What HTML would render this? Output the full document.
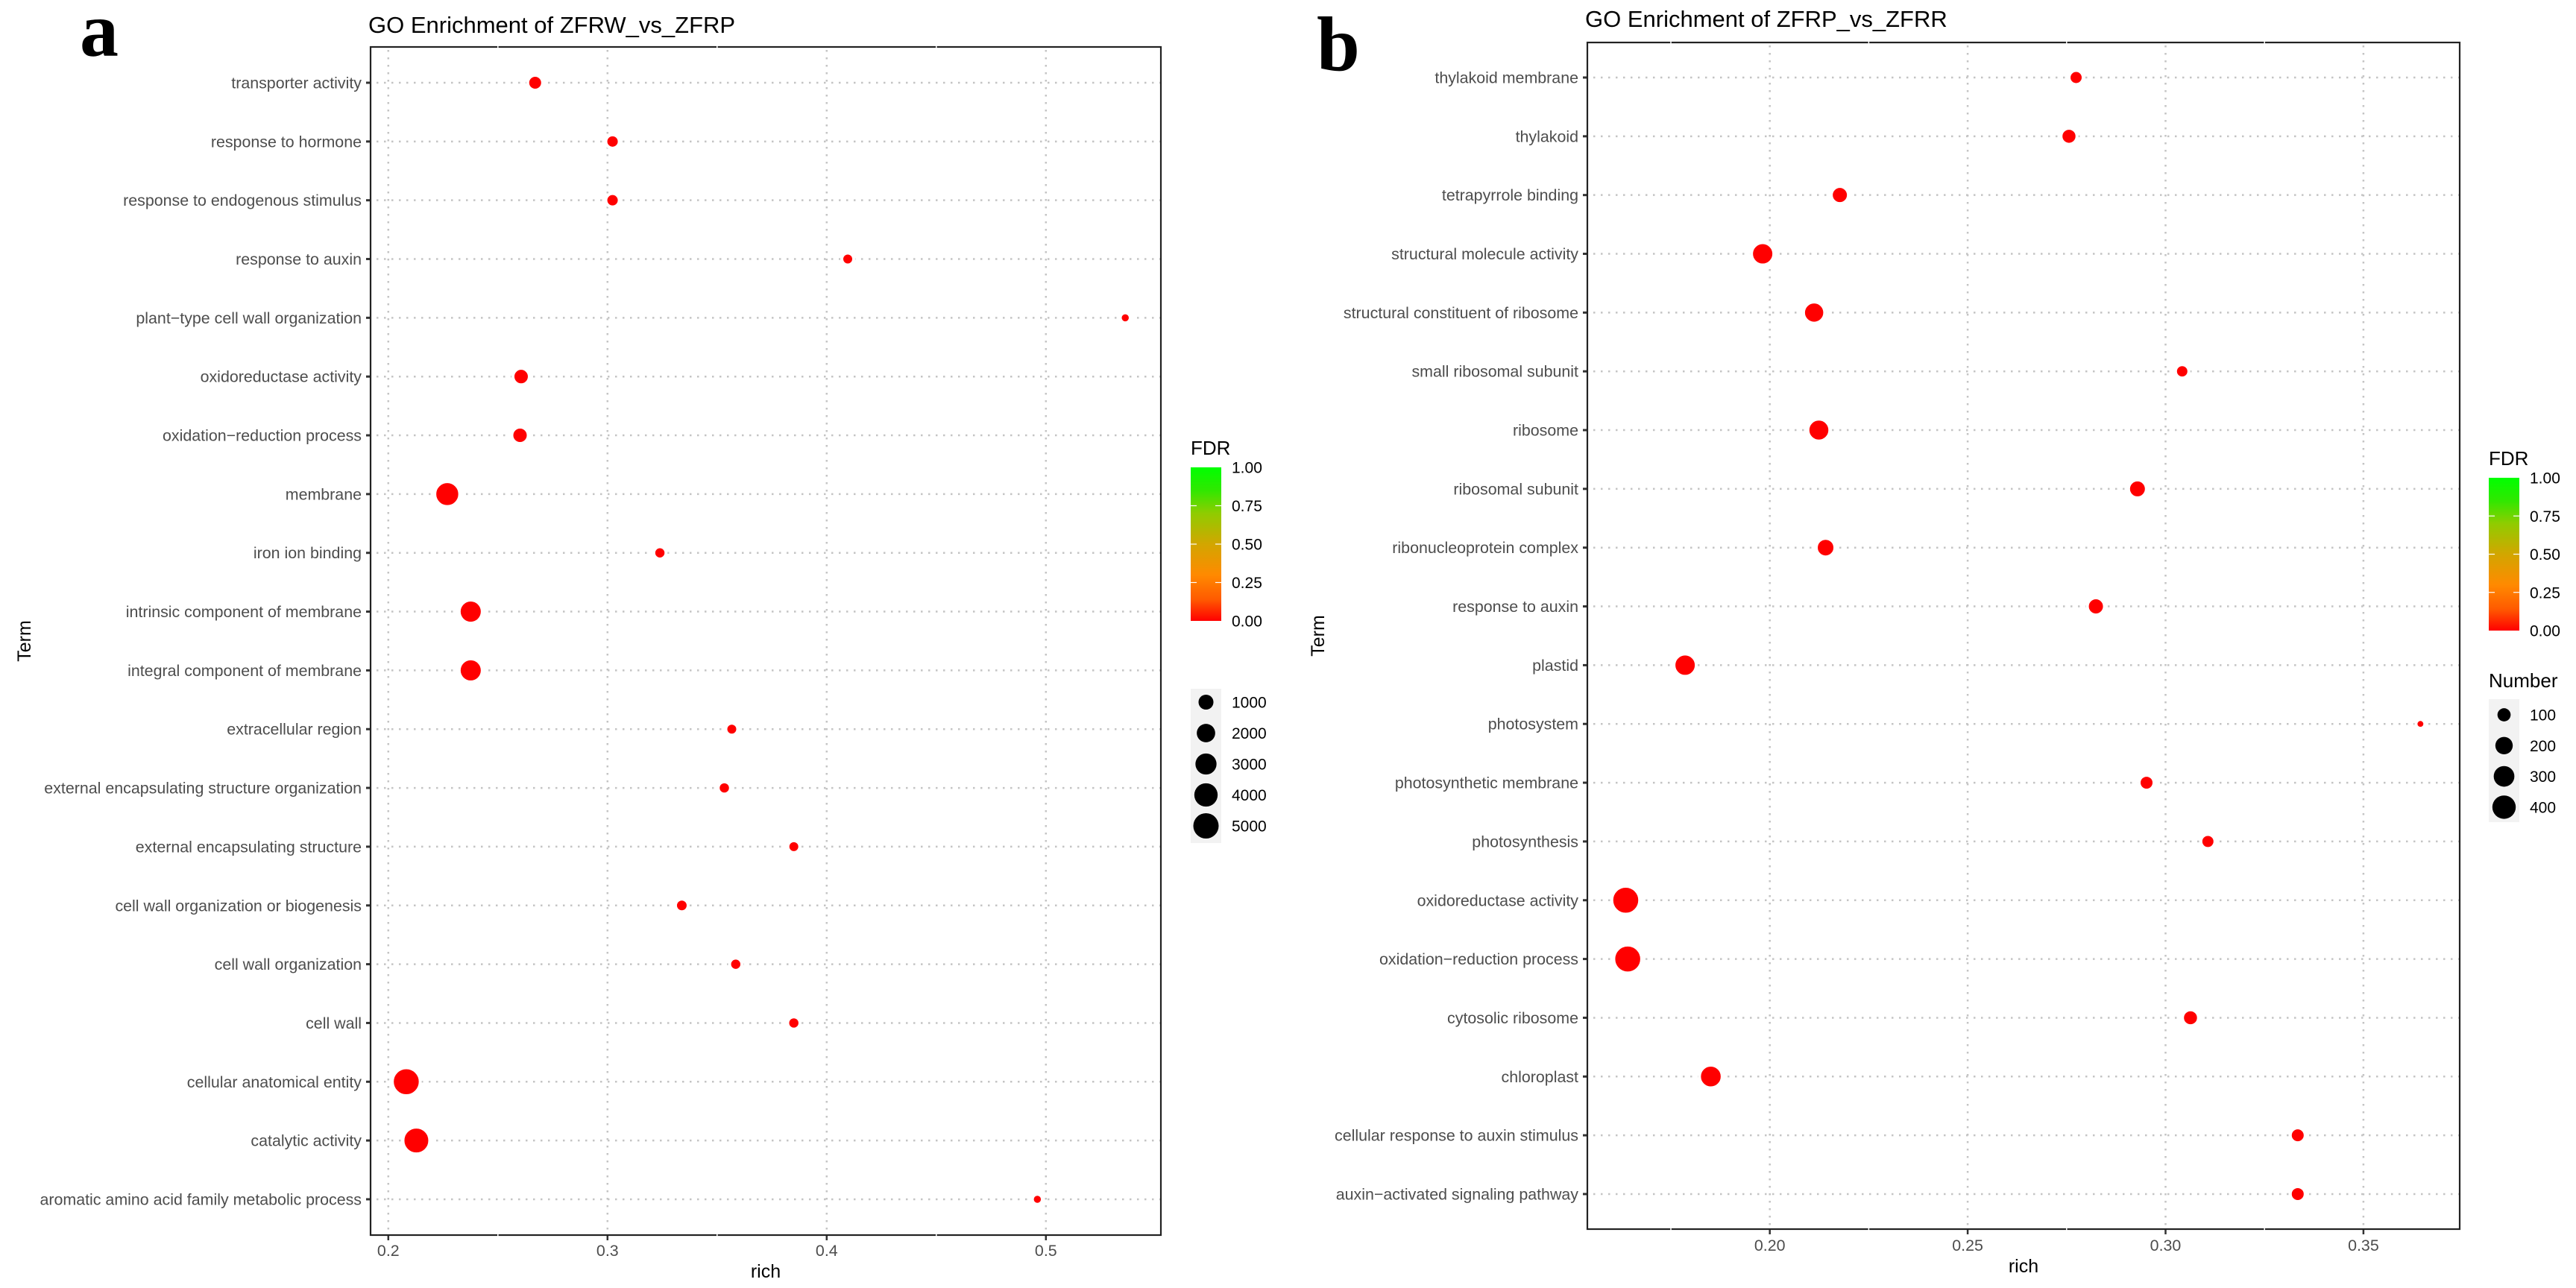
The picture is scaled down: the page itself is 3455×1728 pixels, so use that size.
<!DOCTYPE html>
<html lang="en">
<head>
<meta charset="utf-8">
<title>GO Enrichment dot plots</title>
<style>
html,body{margin:0;padding:0;background:#fff;}
svg{display:block;}
text{font-family:"Liberation Sans",sans-serif;}
.letter{font-family:"Liberation Serif",serif;font-weight:bold;font-size:104px;fill:#000;}
</style>
</head>
<body>
<svg id="figure" xmlns="http://www.w3.org/2000/svg" width="3455" height="1728" viewBox="0 0 3455 1728">
<defs>
<linearGradient id="fdr-gradient" x1="0" y1="1" x2="0" y2="0">
<stop offset="0" stop-color="#ff0000"/>
<stop offset="0.14" stop-color="#ff5a00"/>
<stop offset="0.3" stop-color="#ff8a00"/>
<stop offset="0.5" stop-color="#d2a600"/>
<stop offset="0.7" stop-color="#90cc00"/>
<stop offset="0.85" stop-color="#30e800"/>
<stop offset="1" stop-color="#00ff00"/>
</linearGradient>
</defs>
<rect x="0" y="0" width="3455" height="1728" fill="#fff"/>
<text class="letter" x="107" y="75">a</text>
<text class="letter" x="1766" y="94">b</text>
</svg>
<script>
// ---- Panel a data ----
const termsA = ["transporter activity","response to hormone","response to endogenous stimulus","response to auxin","plant−type cell wall organization","oxidoreductase activity","oxidation−reduction process","membrane","iron ion binding","intrinsic component of membrane","integral component of membrane","extracellular region","external encapsulating structure organization","external encapsulating structure","cell wall organization or biogenesis","cell wall organization","cell wall","cellular anatomical entity","catalytic activity","aromatic amino acid family metabolic process"];
const richA = [0.2670,0.3023,0.3023,0.4096,0.5362,0.2606,0.2601,0.2269,0.3239,0.2376,0.2376,0.3567,0.3533,0.3850,0.3339,0.3585,0.3850,0.2082,0.2128,0.4961];
const numberA = [420,220,220,85,5,680,680,3380,110,2620,2620,85,110,85,145,110,110,4800,4240,5];
const fdrA = [0,0,0,0,0,0,0,0,0,0,0,0,0,0,0,0,0,0,0,0];
const xTicksA = [0.2,0.3,0.4,0.5];
const xTickLabelsA = ["0.2","0.3","0.4","0.5"];
const xMinorA = [0.25,0.35,0.45];
const sizeTicksA = [1000,2000,3000,4000,5000];

// ---- Panel b data ----
const termsB = ["thylakoid membrane","thylakoid","tetrapyrrole binding","structural molecule activity","structural constituent of ribosome","small ribosomal subunit","ribosome","ribosomal subunit","ribonucleoprotein complex","response to auxin","plastid","photosystem","photosynthetic membrane","photosynthesis","oxidoreductase activity","oxidation−reduction process","cytosolic ribosome","chloroplast","cellular response to auxin stimulus","auxin−activated signaling pathway"];
const richB = [0.2774,0.2756,0.2177,0.1982,0.2112,0.3042,0.2124,0.2929,0.2141,0.2824,0.1786,0.3644,0.2952,0.3107,0.1636,0.1641,0.3063,0.1851,0.3334,0.3334];
const numberB = [64,97,120,258,224,53,246,136,154,120,258,8,77,64,464,464,97,270,77,77];
const fdrB = [0,0,0,0,0,0,0,0,0,0,0,0,0,0,0,0,0,0,0,0];
const xTicksB = [0.20,0.25,0.30,0.35];
const xTickLabelsB = ["0.20","0.25","0.30","0.35"];
const xMinorB = [0.175,0.225,0.275,0.325];
const sizeTicksB = [100,200,300,400];

// ---- FDR colour legend ----
const fdrTicks = [0,0.25,0.5,0.75,1];
const fdrTickLabels = ["0.00","0.25","0.50","0.75","1.00"];

const svg = document.getElementById('figure');
const NS = 'http://www.w3.org/2000/svg';
const GRID = '#c4c4c4';
const INK = '#4d4d4d';
const FRAME = '#222222';

function make(tag, attrs, parent, content) {
  const node = document.createElementNS(NS, tag);
  for (const k in attrs) node.setAttribute(k, attrs[k]);
  if (content !== undefined) node.textContent = content;
  parent.appendChild(node);
  return node;
}
function fdrColor(v) {
  const r = 255 * (1 - v), g = 255 * v;
  return 'rgb(' + Math.round(r) + ',' + Math.round(g) + ',0)';
}

function drawPanel(cfg) {
  const scaleX = v => cfg.x0 + (v - cfg.xBase) * cfg.xPerUnit;
  const scaleY = i => cfg.rowTop + i * cfg.rowStep;
  const scaleSize = n => cfg.sizeA + cfg.sizeB * Math.sqrt(n);

  const g = make('g', {}, svg);
  
  

  const title = make('text', {x: cfg.left - 3, y: cfg.titleY, 'font-size': 31, fill: '#000'}, g, cfg.title);
  
  

  cfg.xTicks.forEach((v, i) => {
    const line = make('line', {x1: scaleX(v), x2: scaleX(v), y1: cfg.top + 4, y2: cfg.bottom - 2, stroke: GRID, 'stroke-width': 2.5, 'stroke-dasharray': '2.5 7.5'}, g);
    
    
    const tick = make('line', {x1: scaleX(v), x2: scaleX(v), y1: cfg.bottom, y2: cfg.bottom + 7, stroke: '#333', 'stroke-width': 2.5}, g);
    
    
    const label = make('text', {x: scaleX(v), y: cfg.xLabelY, 'font-size': 21.4, fill: INK, 'text-anchor': 'middle'}, g, cfg.xTickLabels[i]);
    
    
  });

  cfg.terms.forEach((term, i) => {
    const y = scaleY(i);
    const line = make('line', {x1: cfg.left + 8, x2: cfg.right - 1, y1: y, y2: y, stroke: GRID, 'stroke-width': 2.5, 'stroke-dasharray': '2.5 7.5'}, g);
    
    
    const tick = make('line', {x1: cfg.left - 6, x2: cfg.left, y1: y, y2: y, stroke: '#333', 'stroke-width': 3}, g);
    
    
    const label = make('text', {x: cfg.left - 12, y: y + 7.5, 'font-size': 21.4, fill: INK, 'text-anchor': 'end'}, g, term);
    
    
  });

  const frame = make('rect', {x: cfg.left, y: cfg.top, width: cfg.right - cfg.left, height: cfg.bottom - cfg.top, fill: 'none', stroke: FRAME, 'stroke-width': 2.2}, g);
  
  

  cfg.xMinor.forEach(v => {
    const top = make('line', {x1: scaleX(v), x2: scaleX(v), y1: cfg.top - 2, y2: cfg.top + 2, stroke: '#fff', 'stroke-width': 1.5}, g);
    
    
    const bottom = make('line', {x1: scaleX(v), x2: scaleX(v), y1: cfg.bottom - 2, y2: cfg.bottom + 2, stroke: '#fff', 'stroke-width': 1.5}, g);
    
    
  });

  cfg.rich.forEach((v, i) => {
    const d = scaleSize(cfg.number[i]);
    const dot = make('circle', {cx: scaleX(v), cy: scaleY(i), r: d / 2 + 2, fill: fdrColor(cfg.fdr[i]), stroke: '#fff', 'stroke-width': 4}, g);
    
    
  });

  const xTitle = make('text', {x: (cfg.left + cfg.right) / 2, y: cfg.xTitleY, 'font-size': 25, fill: '#000', 'text-anchor': 'middle'}, g, 'rich');
  
  

  const yTitle = make('text', {transform: 'translate(' + cfg.yTitleX + ',' + (cfg.top + cfg.bottom) / 2 + ') rotate(-90)', 'font-size': 25, fill: '#000', 'text-anchor': 'middle'}, g, 'Term');
  
  

  // colour legend
  const barY = v => cfg.barBottom - v * (cfg.barBottom - cfg.barTop);
  const fdrTitle = make('text', {x: cfg.barLeft, y: cfg.barTop - 17, 'font-size': 26, fill: '#000'}, g, 'FDR');
  
  
  const bar = make('rect', {x: cfg.barLeft, y: cfg.barTop, width: 41, height: cfg.barBottom - cfg.barTop, fill: 'url(#fdr-gradient)'}, g);
  
  
  fdrTicks.forEach((v, i) => {
    if (v > 0 && v < 1) {
      const t1 = make('line', {x1: cfg.barLeft, x2: cfg.barLeft + 8, y1: barY(v), y2: barY(v), stroke: '#fff', 'stroke-width': 1.2}, g);
      
      
      const t2 = make('line', {x1: cfg.barLeft + 33, x2: cfg.barLeft + 41, y1: barY(v), y2: barY(v), stroke: '#fff', 'stroke-width': 1.2}, g);
      
      
    }
    const lab = make('text', {x: cfg.barLeft + 55, y: barY(v) + 7.5, 'font-size': 21, fill: '#000'}, g, fdrTickLabels[i]);
    
    
  });

  // size legend
  if (cfg.sizeTitle) {
    const st = make('text', {x: cfg.barLeft, y: cfg.sizeBoxTop - 16, 'font-size': 26, fill: '#000'}, g, cfg.sizeTitle);
    
    
  }
  const box = make('rect', {x: cfg.barLeft, y: cfg.sizeBoxTop, width: 41, height: cfg.sizeBoxHeight, fill: '#f2f2f2'}, g);
  
  
  cfg.sizeTicks.forEach((n, i) => {
    const y = cfg.sizeRowTop + i * cfg.sizeRowStep;
    const key = make('circle', {cx: cfg.barLeft + 20.5, cy: y, r: scaleSize(n) / 2, fill: '#000'}, g);
    
    
    const lab = make('text', {x: cfg.barLeft + 55, y: y + 7.5, 'font-size': 21, fill: '#000'}, g, String(n));
    
    
  });
}

drawPanel({
  name: 'panel-a', title: 'GO Enrichment of ZFRW_vs_ZFRP', titleY: 44,
  terms: termsA, rich: richA, number: numberA, fdr: fdrA,
  xTicks: xTicksA, xTickLabels: xTickLabelsA, xMinor: xMinorA, sizeTicks: sizeTicksA,
  left: 497, right: 1557, top: 63, bottom: 1657,
  rowTop: 111, rowStep: 78.84,
  x0: 520.8, xBase: 0.2, xPerUnit: 2940,
  sizeA: 8.7, sizeB: 0.358,
  xLabelY: 1685, xTitleY: 1714, yTitleX: 41,
  barLeft: 1597, barTop: 627, barBottom: 833,
  sizeTitle: '', sizeBoxTop: 924, sizeBoxHeight: 207, sizeRowTop: 942, sizeRowStep: 41.5
});

drawPanel({
  name: 'panel-b', title: 'GO Enrichment of ZFRP_vs_ZFRR', titleY: 36,
  terms: termsB, rich: richB, number: numberB, fdr: fdrB,
  xTicks: xTicksB, xTickLabels: xTickLabelsB, xMinor: xMinorB, sizeTicks: sizeTicksB,
  left: 2129, right: 3299, top: 57, bottom: 1649,
  rowTop: 104, rowStep: 78.84,
  x0: 2373.7, xBase: 0.2, xPerUnit: 5308,
  sizeA: 4, sizeB: 1.37,
  xLabelY: 1678, xTitleY: 1707, yTitleX: 1776,
  barLeft: 3338, barTop: 641, barBottom: 846,
  sizeTitle: 'Number', sizeBoxTop: 938, sizeBoxHeight: 165, sizeRowTop: 959, sizeRowStep: 41.3
});
</script>
</body>
</html>
